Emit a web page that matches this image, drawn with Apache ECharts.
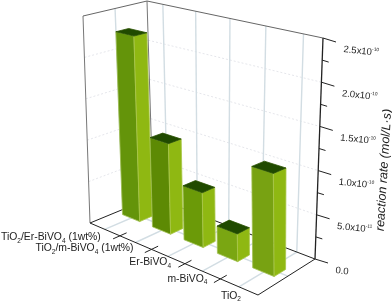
<!DOCTYPE html>
<html>
<head>
<meta charset="utf-8">
<style>html,body{margin:0;padding:0;background:#fff}#c{width:392px;height:303px}</style>
<script src="https://cdn.jsdelivr.net/npm/echarts@6/dist/echarts.min.js"></script>
</head>
<body>
<div id="c"></div>
<script>
// ---- data ----
var categories = ['TiO{b|2}/Er-BiVO{b|4} (1wt%)', 'TiO{b|2}/m-BiVO{b|4} (1wt%)', 'Er-BiVO{b|4}', 'm-BiVO{b|4}', 'TiO{b|2}'];
var rates = [2.25e-10, 1.07e-10, 0.63e-10, 0.31e-10, 1.12e-10];
var majorTicks = [0, 0.5e-10, 1.0e-10, 1.5e-10, 2.0e-10, 2.5e-10];
var minorTicks = [0.25e-10, 0.75e-10, 1.25e-10, 1.75e-10, 2.25e-10];
var tickLabels = ['0.0', '5.0x10{s|-11}', '1.0x10{s|-10}', '1.5x10{s|-10}', '2.0x10{s|-10}', '2.5x10{s|-10}'];
var valueName = 'reaction rate (mol/L\u00b7s)';

// ---- view: corners of the floor and ceiling of the plot box ----
var floorQuad = [[90, 223], [258, 295], [315, 259], [153, 197]];
var topQuad = [[83, 16], [252, 55], [323, 38], [147, 1]];
var labelOffsets = [[-4, 8], [-2, 6], [3, 6], [5, 8], [2, 9]];
var leftShades = ['#64940a', '#5d8a04', '#6b9a08', '#7aa612', '#78a212'];
var barHalfU = 0.29, barHalfW = 0.1;

function homography(q) {
  var dx1 = q[1][0] - q[2][0], dx2 = q[3][0] - q[2][0], sx = q[0][0] - q[1][0] + q[2][0] - q[3][0];
  var dy1 = q[1][1] - q[2][1], dy2 = q[3][1] - q[2][1], sy = q[0][1] - q[1][1] + q[2][1] - q[3][1];
  var d = dx1 * dy2 - dx2 * dy1;
  var g = (sx * dy2 - dx2 * sy) / d, h = (dx1 * sy - sx * dy1) / d;
  var a = q[1][0] - q[0][0] + g * q[1][0], b = q[3][0] - q[0][0] + h * q[3][0], c = q[0][0];
  var e = q[1][1] - q[0][1] + g * q[1][1], f = q[3][1] - q[0][1] + h * q[3][1], k = q[0][1];
  return function (u, w) {
    var z = g * u + h * w + 1;
    return [(a * u + b * w + c) / z, (e * u + f * w + k) / z];
  };
}
var floorMap = homography(floorQuad), topMap = homography(topQuad);
var G = {l: 20, t: 20, w: 300, h: 200};

// Value and category go through the chart's own axes, depth is added by the view.
function project(api, u, w, v) {
  var p = api.coord([u, v]);
  var U = (p[0] - G.l) / G.w, V = (G.t + G.h - p[1]) / G.h;
  var a = floorMap(U, w), b = topMap(U, w);
  return [a[0] + (b[0] - a[0]) * V, a[1] + (b[1] - a[1]) * V];
}
function seg(a, b, color, width, dash) {
  return {type: 'line', shape: {x1: a[0], y1: a[1], x2: b[0], y2: b[1]},
    style: {stroke: color, lineWidth: width, lineDash: dash || null, fill: null}};
}
function face(pts, fill, stroke) {
  return {type: 'polygon', shape: {points: pts},
    style: {fill: fill, stroke: stroke || fill, lineWidth: stroke ? 0.8 : 0.3}};
}
var richLabel = {
  b: {fontSize: 6.5, fontFamily: 'Liberation Sans', fill: '#222', padding: [7, 0, 0, 0]},
  s: {fontSize: 4.8, fontFamily: 'Liberation Sans', fill: '#222', padding: [0, 0, 6, 0]}
};

function renderFrame(params, api) {
  var c = [], vMax = majorTicks[majorTicks.length - 1], n = categories.length;
  var P = function (u, w, v) { return project(api, u, w, v); };
  var pale = '#d2dde3', wall = '#e2e3e9';
  majorTicks.slice(1, -1).forEach(function (t) {
    c.push(seg(P(0, 0, t), P(0, 1, t), wall, 0.9, [2, 2]));
    c.push(seg(P(0, 1, t), P(n, 1, t), wall, 0.9, [2, 2]));
  });
  categories.forEach(function (_, i) {
    var u = i + 0.5;
    c.push(seg(P(u, 1, 0), P(u, 1, vMax), pale, 1.4));
    c.push(seg(P(u, 0, 0), P(u, 1, 0), pale, 1.4));
  });
  c.push(seg(P(0, 0.5, 0), P(0, 0.5, vMax), pale, 1.4));
  c.push(seg(P(0, 0.5, 0), P(n, 0.5, 0), pale, 1.4));
  c.push(seg(P(0, 0, 0), P(0, 0, vMax), '#777', 1));
  c.push(seg(P(0, 1, 0), P(0, 1, vMax), '#777', 1));
  c.push(seg(P(0, 0, vMax), P(0, 1, vMax), '#666', 1));
  c.push(seg(P(0, 1, vMax), P(n, 1, vMax), '#666', 1));
  c.push(seg(P(0, 0, 0), P(0, 1, 0), '#222', 1));
  c.push(seg(P(0, 1, 0), P(n, 1, 0), '#222', 1));
  c.push(seg(P(0, 0, 0), P(n, 0, 0), '#222', 1));
  c.push(seg(P(n, 0, 0), P(n, 1, 0), '#222', 1));
  c.push(seg(P(n, 1, 0), P(n, 1, vMax), '#222', 1.3));
  for (var i = 1; i < n; i++) {
    c.push(seg(P(i, -0.1, 0), P(i, 0.1, 0), '#222', 1));
  }
  majorTicks.forEach(function (t, i) {
    var a = P(n, 1, t);
    c.push(seg(a, [a[0] + 13, a[1] + 4], '#222', 1));
    c.push({type: 'text', x: a[0] + 20.5, y: a[1] + 11.5, rotation: -0.1,
      style: {text: tickLabels[i], x: 0, y: 0, align: 'left', verticalAlign: 'middle',
        font: '9.5px "Liberation Sans"', fill: '#222', rich: richLabel}});
  });
  minorTicks.forEach(function (t) {
    var a = P(n, 1, t);
    c.push(seg(a, [a[0] + 6.5, a[1] + 2], '#222', 1));
  });
  categories.forEach(function (name, i) {
    var a = P(i + 0.5, 0, 0), o = labelOffsets[i];
    c.push({type: 'text', x: a[0] + o[0], y: a[1] + o[1],
      style: {text: name, x: 0, y: 0, align: 'right', verticalAlign: 'middle',
        font: '10.4px "Liberation Sans"', fill: '#222', rich: richLabel}});
  });
  c.push({type: 'text', x: 384, y: 170, rotation: 1.51,
    style: {text: valueName, x: 0, y: 0, align: 'center', verticalAlign: 'middle',
      font: 'italic 12.5px "Liberation Sans"', fill: '#222'}});
  return {type: 'group', children: c};
}

function renderBar(params, api) {
  var i = api.value(0), v = api.value(1), u = i + 0.5, w = 0.5;
  var u0 = u - barHalfU, u1 = u + barHalfU, w0 = w - barHalfW, w1 = w + barHalfW;
  var P = function (a, b, h) { return project(api, a, b, h); };
  return {type: 'group', children: [
    face([P(u0, w0, 0), P(u1, w0, 0), P(u1, w0, v), P(u0, w0, v)], leftShades[i], '#9fbf50'),
    face([P(u1, w0, 0), P(u1, w1, 0), P(u1, w1, v), P(u1, w0, v)], '#8fb812', '#a9c74a'),
    face([P(u0, w0, v), P(u1, w0, v), P(u1, w1, v), P(u0, w1, v)], '#204a00', '#2a5200')
  ]};
}

var chart = echarts.init(document.getElementById('c'), null, {renderer: 'canvas'});
chart.setOption({
  animation: false,
  backgroundColor: '#fff',
  grid: {left: G.l, top: G.t, width: G.w, height: G.h},
  xAxis: {type: 'value', min: 0, max: categories.length, show: false},
  yAxis: {type: 'value', min: 0, max: majorTicks[majorTicks.length - 1], show: false},
  series: [
    {type: 'custom', data: [[0, 0]], renderItem: renderFrame, clip: false, silent: true, z: 1},
    {type: 'custom', data: rates.map(function (r, i) { return [i, r]; }), encode: {x: 0, y: 1},
      renderItem: renderBar, clip: false, silent: true, z: 2}
  ]
});
</script>
</body>
</html>
